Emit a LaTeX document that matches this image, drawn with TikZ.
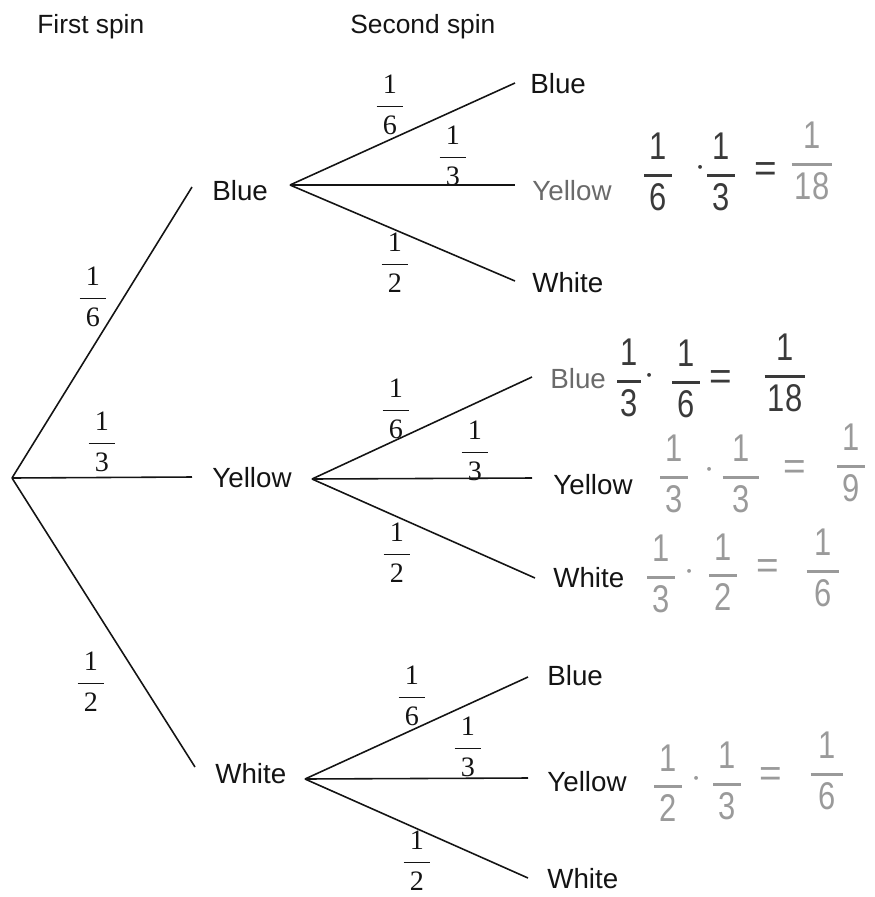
\documentclass[tikz,border=0pt]{standalone}
\usepackage{fontspec}
\usepackage{amsmath}
\setmainfont{Liberation Sans}
\newfontfamily\hwfont{Liberation Sans}[FakeStretch=0.8]
\newfontfamily\numfont{Liberation Serif}

% printed probability on a branch
\newcommand\pfrac[2]{$\dfrac{\makebox[0.95em]{\numfont #1}}{\makebox[0.95em]{\numfont #2}}$}
% pencilled fraction
\newcommand\hfrac[3][0.72em]{$\genfrac{}{}{1.3pt}{0}{\makebox[#1]{\hwfont #2}}{\makebox[#1]{\hwfont #3}}$}

\definecolor{ink}{HTML}{141414}
\definecolor{dimink}{HTML}{6A6A6A}
\definecolor{pencil}{HTML}{3A3A3A}
\definecolor{lightpencil}{HTML}{9A9A9A}

\begin{document}
\begin{tikzpicture}[x=0.02cm,y=-0.02cm,
  lbl/.style={anchor=base west,inner sep=0,text=ink,font=\fontsize{15.8}{18}\selectfont},
  head/.style={lbl,font=\fontsize{15}{18}\selectfont},
  prob/.style={inner sep=0,text=ink,font=\fontsize{16}{19}\selectfont},
  hw/.style={inner sep=0,font=\fontsize{22}{26}\selectfont},
  branch/.style={draw=ink,line width=0.9pt}]
\useasboundingbox (0,0) rectangle (875,897);

% column headings
\node[head] (h1) at (37,33) {First spin};
\node[head] (h2) at (350,33) {Second spin};

% first spin
\coordinate (r) at (12,478);
\coordinate (e1) at (192,187);
\coordinate (e2) at (192,477);
\coordinate (e3) at (195,767);
\node[lbl] (B) at (212,200) {Blue};
\node[lbl] (Y) at (212,487) {Yellow};
\node[lbl] (W) at (215,783) {White};
\draw[branch] (r) -- (e1);
\draw[branch] (r) -- (e2);
\draw[branch] (r) -- (e3);
\node[prob] (p1) at (93,297) {\pfrac{1}{6}};
\node[prob] (p2) at (102,442) {\pfrac{1}{3}};
\node[prob] (p3) at (91,682) {\pfrac{1}{2}};

% second spin after Blue
\coordinate (oB) at (290,185);
\coordinate (eBb) at (515,83);
\coordinate (eBy) at (515,185);
\coordinate (eBw) at (515,281);
\draw[branch] (oB) -- (eBb);
\draw[branch] (oB) -- (eBy);
\draw[branch] (oB) -- (eBw);
\node[lbl] (BB) at (530,93) {Blue};
\node[lbl,text=dimink] (BY) at (532,200) {Yellow};
\node[lbl] (BW) at (532,292) {White};
\node[prob] (q1) at (390,105) {\pfrac{1}{6}};
\node[prob] (q2) at (453,156) {\pfrac{1}{3}};
\node[prob] (q3) at (395,263) {\pfrac{1}{2}};

% second spin after Yellow
\coordinate (oY) at (312,479);
\coordinate (eYb) at (532,377);
\coordinate (eYy) at (532,478);
\coordinate (eYw) at (535,578);
\draw[branch] (oY) -- (eYb);
\draw[branch] (oY) -- (eYy);
\draw[branch] (oY) -- (eYw);
\node[lbl,text=dimink] (YB) at (550,388) {Blue};
\node[lbl] (YY) at (553,494) {Yellow};
\node[lbl] (YW) at (553,587) {White};
\node[prob] (s1) at (396,409) {\pfrac{1}{6}};
\node[prob] (s2) at (475,451) {\pfrac{1}{3}};
\node[prob] (s3) at (397,553) {\pfrac{1}{2}};

% second spin after White
\coordinate (oW) at (305,779);
\coordinate (eWb) at (528,677);
\coordinate (eWy) at (528,778);
\coordinate (eWw) at (528,878);
\draw[branch] (oW) -- (eWb);
\draw[branch] (oW) -- (eWy);
\draw[branch] (oW) -- (eWw);
\node[lbl] (WB) at (547,685) {Blue};
\node[lbl] (WY) at (547,791) {Yellow};
\node[lbl] (WW) at (547,888) {White};
\node[prob] (t1) at (412,696) {\pfrac{1}{6}};
\node[prob] (t2) at (468,747) {\pfrac{1}{3}};
\node[prob] (t3) at (417,861) {\pfrac{1}{2}};

% pencilled products
\begin{scope}[every node/.style={hw}]
  % Blue, Yellow
  \node[text=pencil] (a1) at (658,172) {\hfrac{1}{6}};
  \node[text=pencil] (a2) at (701,168) {$\cdot$};
  \node[text=pencil] (a3) at (721,172) {\hfrac{1}{3}};
  \node[text=pencil] (a4) at (766,172) {=};
  \node[text=lightpencil] (a5) at (812,161) {\hfrac[1.05em]{1}{18}};
  % Yellow, Blue
  \node[text=pencil] (b1) at (629,378) {\hfrac[0.62em]{1}{3}};
  \node[text=pencil] (b2) at (650,376) {$\cdot$};
  \node[text=pencil] (b3) at (686,379) {\hfrac{1}{6}};
  \node[text=pencil] (b4) at (721,380) {=};
  \node[text=pencil] (b5) at (785,373) {\hfrac[1.05em]{1}{18}};
  % Yellow, Yellow
  \node[text=lightpencil] (c1) at (674,474) {\hfrac{1}{3}};
  \node[text=lightpencil] (c2) at (710,470) {$\cdot$};
  \node[text=lightpencil] (c3) at (741,474) {\hfrac[0.95em]{1}{3}};
  \node[text=lightpencil] (c4) at (795,470) {=};
  \node[text=lightpencil] (c5) at (851,463) {\hfrac{1}{9}};
  % Yellow, White
  \node[text=lightpencil] (d1) at (661,574) {\hfrac{1}{3}};
  \node[text=lightpencil] (d2) at (690,572) {$\cdot$};
  \node[text=lightpencil] (d3) at (723,572) {\hfrac{1}{2}};
  \node[text=lightpencil] (d4) at (768,569) {=};
  \node[text=lightpencil] (d5) at (823,568) {\hfrac[0.85em]{1}{6}};
  % White, Yellow
  \node[text=lightpencil] (f1) at (668,783) {\hfrac{1}{2}};
  \node[text=lightpencil] (f2) at (697,779) {$\cdot$};
  \node[text=lightpencil] (f3) at (727,781) {\hfrac{1}{3}};
  \node[text=lightpencil] (f4) at (771,777) {=};
  \node[text=lightpencil] (f5) at (827,771) {\hfrac[0.85em]{1}{6}};
\end{scope}
\end{tikzpicture}
\end{document}
